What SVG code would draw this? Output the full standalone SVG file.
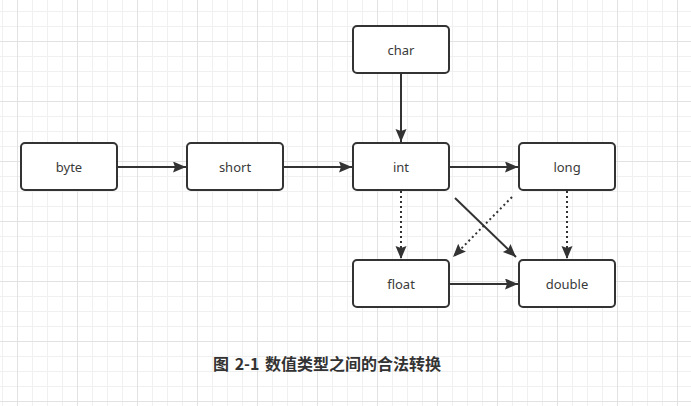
<svg xmlns="http://www.w3.org/2000/svg" width="691" height="406" viewBox="0 0 691 406">
  <style>
    .box { fill: #ffffff; stroke: #333333; stroke-width: 2; }
    .label { font-family: "Noto Sans", "Liberation Sans", sans-serif; font-size: 13px; fill: #3a3a3a; text-anchor: middle; }
    .edge { fill: none; stroke: #333333; stroke-width: 2; }
    .dotted { stroke-dasharray: 2 3; }
    .caption { font-family: "Noto Sans CJK SC", "Noto Sans", sans-serif; font-size: 16px; font-weight: bold; fill: #333333; word-spacing: 2px; }
  </style>
  <defs>
    <pattern id="gridMinor" patternUnits="userSpaceOnUse" x="2" y="11" width="15" height="15">
      <path d="M0 0.5 H15 M0.5 0 V15" fill="none" stroke="#f0f0f0" stroke-width="1"/>
    </pattern>
    <pattern id="gridMajor" patternUnits="userSpaceOnUse" x="17" y="41" width="60" height="60">
      <path d="M0 0.5 H60 M0.5 0 V60" fill="none" stroke="#e2e2e2" stroke-width="1"/>
    </pattern>
    <marker id="arrow" markerUnits="userSpaceOnUse" markerWidth="14" markerHeight="12" refX="13" refY="5.5" orient="auto">
      <path d="M0,0 L13,5.5 L0,11 L2,5.5 z" fill="#333333"/>
    </marker>
  </defs>

  <!-- background grid -->
  <rect width="691" height="406" fill="#ffffff"/>
  <rect width="691" height="406" fill="url(#gridMinor)"/>
  <rect width="691" height="406" fill="url(#gridMajor)"/>

  <!-- connectors -->
  <g id="connectors">
    <path class="edge" d="M117,167 L186,167" marker-end="url(#arrow)"/>
    <path class="edge" d="M283,167 L352,167" marker-end="url(#arrow)"/>
    <path class="edge" d="M401,73 L401,142" marker-end="url(#arrow)"/>
    <path class="edge" d="M449,167 L518,167" marker-end="url(#arrow)"/>
    <path class="edge dotted" d="M401,191 L401,259" marker-end="url(#arrow)"/>
    <path class="edge dotted" d="M567,191 L567,259" marker-end="url(#arrow)"/>
    <path class="edge" d="M449,284 L518,284" marker-end="url(#arrow)"/>
    <path class="edge" d="M455,198 L516,257" marker-end="url(#arrow)"/>
    <path class="edge dotted" d="M512,197 L453,257" marker-end="url(#arrow)"/>
  </g>

  <!-- nodes -->
  <g id="node-byte">
    <rect class="box" x="21" y="143" width="96" height="47" rx="4"/>
    <text class="label" x="69" y="172">byte</text>
  </g>
  <g id="node-short">
    <rect class="box" x="187" y="143" width="96" height="47" rx="4"/>
    <text class="label" x="235" y="172">short</text>
  </g>
  <g id="node-char">
    <rect class="box" x="353" y="26" width="96" height="47" rx="4"/>
    <text class="label" x="401" y="55">char</text>
  </g>
  <g id="node-int">
    <rect class="box" x="353" y="143" width="96" height="47" rx="4"/>
    <text class="label" x="401" y="172">int</text>
  </g>
  <g id="node-long">
    <rect class="box" x="519" y="143" width="96" height="47" rx="4"/>
    <text class="label" x="567" y="172">long</text>
  </g>
  <g id="node-float">
    <rect class="box" x="353" y="260" width="96" height="47" rx="4"/>
    <text class="label" x="401" y="289">float</text>
  </g>
  <g id="node-double">
    <rect class="box" x="519" y="260" width="96" height="47" rx="4"/>
    <text class="label" x="567" y="289">double</text>
  </g>

  <!-- caption -->
  <text class="caption" x="213" y="370">图 2-1 数值类型之间的合法转换</text>
</svg>
